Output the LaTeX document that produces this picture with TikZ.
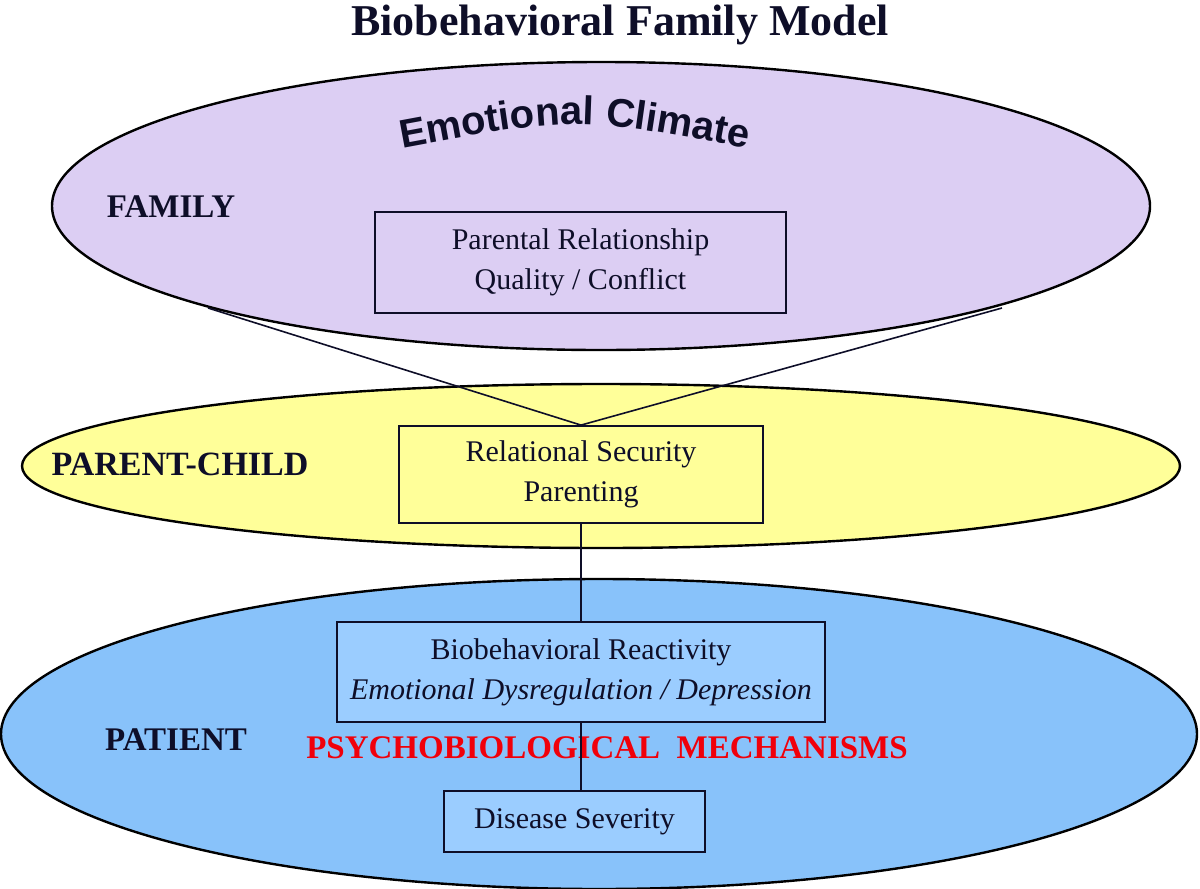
\documentclass[tikz,border=0pt]{standalone}
\usepackage{fontspec}
\setmainfont{Liberation Serif}
\newfontfamily\climatefont{Liberation Sans}
\usetikzlibrary{shapes.geometric,positioning,decorations.text}

\definecolor{familyfill}{RGB}{220,206,243}
\definecolor{parentfill}{RGB}{255,255,153}
\definecolor{patientfill}{RGB}{136,194,250}
\definecolor{boxblue}{RGB}{155,205,255}
\definecolor{inkblue}{RGB}{14,14,40}
\definecolor{mechred}{RGB}{240,0,10}

\begin{document}
\begin{tikzpicture}[
    x=0.5pt, y=-0.5pt,
    level/.style={ellipse, draw=black, line width=1.2pt, inner sep=0pt},
    box/.style={rectangle, draw=inkblue, line width=0.9pt, text=inkblue, align=center, inner sep=0pt, font=\fontsize{15}{20}\selectfont},
    levellabel/.style={text=inkblue, anchor=base, font=\fontsize{16.5}{20}\selectfont\bfseries},
    link/.style={draw=inkblue, line width=0.8pt}
]
\useasboundingbox (0,0) rectangle (1200,889);

% Title
\node[levellabel, font=\fontsize{22}{26}\selectfont\bfseries] (title) at (620,35) {Biobehavioral Family Model};

% Levels
\node[level, fill=familyfill, minimum width=549pt, minimum height=144pt] (family) at (601,206) {};
\node[level, fill=parentfill, minimum width=579pt, minimum height=82pt] (parentchild) at (601,466) {};
\node[level, fill=patientfill, minimum width=598pt, minimum height=155pt] (patient) at (599,734) {};

% Level labels
\node[levellabel] (familylbl) at (171,217) {FAMILY};
\node[levellabel, font=\fontsize{17}{20}\selectfont\bfseries] (pclbl) at (180,475) {PARENT-CHILD};
\node[levellabel] (patientlbl) at (176,750) {PATIENT};
\node[levellabel, text=mechred] (mechlbl) at (607,758) {PSYCHOBIOLOGICAL\ \ MECHANISMS};

% Emotional Climate
\path[decorate, decoration={text along path, text align=center, text color=inkblue,
    text={|\climatefont\fontsize{20}{20}\selectfont\bfseries|Emotional Climate}}]
    (398,149) .. controls (575,116) .. (752,149);

% Boxes
\node[box, fill=familyfill, minimum width=205.5pt, minimum height=50.5pt] (parental) at (580.5,262.5) {Parental Relationship\\Quality / Conflict};
\node[box, fill=parentfill, minimum width=182pt, minimum height=48.5pt] (relsec) at (581,474.5) {Relational Security\\Parenting};
\node[box, fill=boxblue, minimum width=244pt, minimum height=50pt] (bioreact) at (581,672) {Biobehavioral Reactivity\\\textit{Emotional Dysregulation / Depression}};
\node[box, fill=boxblue, minimum width=130.5pt, minimum height=30.5pt] (severity) at (574.5,821.5) {Disease Severity};

% Links
\coordinate (famL) at (208,308);
\coordinate (famR) at (1002,308);
\draw[link] (famL) -- (relsec.north) -- (famR);
\draw[link] (relsec.south) -- (bioreact.north);
\draw[link] (bioreact.south) -- (bioreact.south |- severity.north);

\end{tikzpicture}
\end{document}
